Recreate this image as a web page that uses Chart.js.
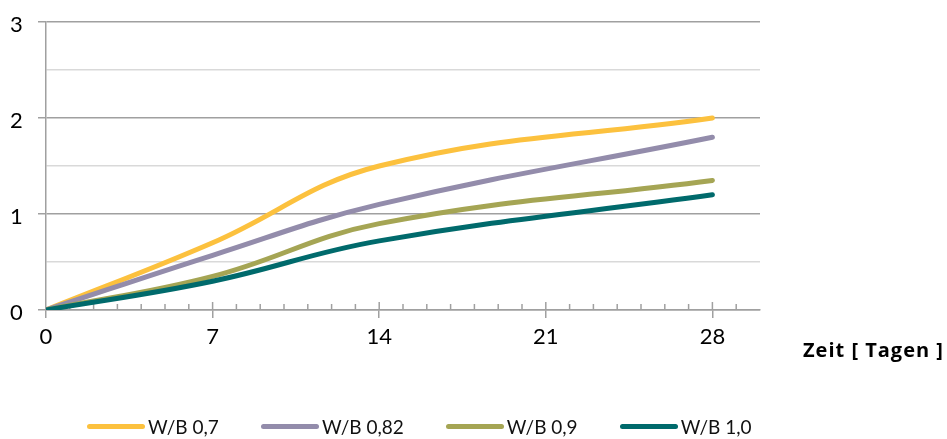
<!DOCTYPE html>
<html>
<head>
<meta charset="utf-8">
<script src="https://cdn.jsdelivr.net/npm/chart.js@4.4.1/dist/chart.umd.min.js"></script>
<style>
  html, body { margin: 0; padding: 0; background: #fff; }
  #wrap { position: relative; width: 947px; height: 439px; }
  #legend { position: absolute; left: 87px; top: 413px; height: 26px; display: flex; align-items: center;
            font-family: Lato, "Open Sans", sans-serif; font-size: 19px; color: #111; }
  .item { display: flex; align-items: center; margin-right: 42px; white-space: nowrap; }
  .swatch { width: 58px; height: 5px; border-radius: 3px; margin-right: 3px; }
</style>
</head>
<body>
<div id="wrap"><canvas id="chart"></canvas><div id="legend"></div></div>
<script>
// Daten
const days = [0, 7, 14, 28];
const wb07 = [0, 0.70, 1.50, 2.00];
const wb082 = [0, 0.57, 1.10, 1.80];
const wb09 = [0, 0.35, 0.90, 1.35];
const wb10 = [0, 0.30, 0.72, 1.20];
const seriesLabels = ['W/B 0,7', 'W/B 0,82', 'W/B 0,9', 'W/B 1,0'];
const seriesColors = ['#fcc13e', '#938cab', '#a5a554', '#006a6c'];
const xTickLabels = [0, 7, 14, 21, 28];
const yTickLabels = [0, 1, 2, 3];
const xTitle = 'Zeit [ Tagen ]';

const axisGrey = '#a0a0a0';
const allSeries = [wb07, wb082, wb09, wb10];

function toPoints(values) {
    return days.map((d, i) => ({ x: d, y: values[i] }));
}

// minor ticks above the axis + axis title right of the plot
const axisExtras = {
    id: 'axisExtras',
    beforeDatasetsDraw(chart) {
        const ctx = chart.ctx;
        const xs = chart.scales.x;
        const y0 = chart.scales.y.getPixelForValue(0);
        ctx.save();
        ctx.strokeStyle = axisGrey;
        ctx.lineWidth = 1.5;
        xs.ticks.forEach(t => {
            if (t.value === 0 || t.value >= xs.max) return;
            const px = xs.getPixelForValue(t.value);
            const len = xTickLabels.includes(t.value) ? 8 : 6;
            ctx.beginPath();
            ctx.moveTo(px, y0);
            ctx.lineTo(px, y0 - len);
            ctx.stroke();
        });
        ctx.restore();
    },
    afterDraw(chart) {
        const ctx = chart.ctx;
        const xs = chart.scales.x;
        const y0 = chart.scales.y.getPixelForValue(0);
        ctx.save();
        ctx.font = 'bold 20px "Open Sans"';
        ctx.letterSpacing = '1px';
        ctx.fillStyle = '#000';
        ctx.textBaseline = 'alphabetic';
        ctx.textAlign = 'left';
        ctx.fillText(xTitle, xs.right + 43, y0 + 47);
        ctx.restore();
    }
};

// legend as html, built from the chart's datasets
const htmlLegend = {
    id: 'htmlLegend',
    afterUpdate(chart) {
        const box = document.getElementById('legend');
        box.innerHTML = '';
        chart.data.datasets.forEach(ds => {
            const item = document.createElement('div');
            item.className = 'item';
            const sw = document.createElement('span');
            sw.className = 'swatch';
            sw.style.background = ds.borderColor;
            const txt = document.createElement('span');
            txt.textContent = ds.label;
            item.appendChild(sw);
            item.appendChild(txt);
            box.appendChild(item);
        });
    }
};

const ctx = document.getElementById('chart').getContext('2d');
const chart = new Chart(ctx, {
    type: 'line',
    data: {
        datasets: allSeries.map((vals, i) => ({
            label: seriesLabels[i],
            data: toPoints(vals),
            borderColor: seriesColors[i],
            backgroundColor: seriesColors[i],
            borderWidth: 5,
            borderCapStyle: 'round',
            pointRadius: 0,
            tension: 0.4,
            fill: false,
            order: allSeries.length - i
        }))
    },
    options: {
        responsive: true,
        maintainAspectRatio: false,
        animation: false,
        layout: {
            padding: { left: 10, right: 187, top: 22, bottom: 0 }
        },
        plugins: {
            tooltip: { enabled: false },
            legend: { display: false }
        },
        scales: {
            x: {
                type: 'linear',
                min: 0,
                max: 30,
                afterFit(scale) { scale.height = 129; },
                border: { color: axisGrey, width: 1.5 },
                grid: {
                    drawOnChartArea: false,
                    tickLength: 8,
                    lineWidth: 1.5,
                    tickColor: c => xTickLabels.includes(c.tick.value) ? axisGrey : 'rgba(0,0,0,0)'
                },
                ticks: {
                    stepSize: 1,
                    autoSkip: false,
                    maxRotation: 0,
                    includeBounds: false,
                    padding: 6,
                    color: '#000',
                    font: { family: 'Lato', size: 22 },
                    callback: v => xTickLabels.includes(v) ? String(v) : ''
                }
            },
            y: {
                min: 0,
                max: 3,
                afterFit(scale) { scale.width = 36; },
                border: { color: axisGrey, width: 1.5 },
                grid: {
                    lineWidth: 1.5,
                    tickLength: 8,
                    color: c => Number.isInteger(c.tick.value) ? axisGrey : '#d9d9d9',
                    tickColor: c => Number.isInteger(c.tick.value) ? axisGrey : 'rgba(0,0,0,0)'
                },
                ticks: {
                    stepSize: 0.5,
                    crossAlign: 'far',
                    labelOffset: 3,
                    color: '#000',
                    font: { family: 'Lato', size: 22 },
                    callback: v => yTickLabels.includes(v) ? String(v) : ''
                }
            }
        }
    },
    plugins: [axisExtras, htmlLegend]
});
</script>
</body>
</html>
